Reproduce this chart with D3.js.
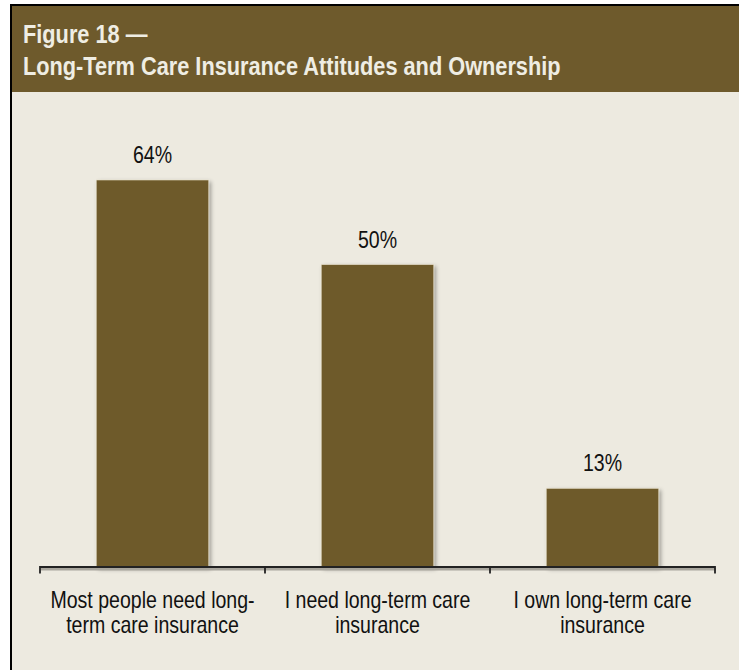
<!DOCTYPE html>
<html>
<head>
<meta charset="utf-8">
<script src="https://cdn.jsdelivr.net/npm/d3@7"></script>
<style>
  html, body { margin: 0; padding: 0; background: #ffffff; }
  svg { display: block; }
</style>
</head>
<body>
<svg id="chart" width="739" height="670"></svg>
<script>
// Survey results: share of respondents agreeing with each statement
const categories = [
  ["Most people need long-", "term care insurance"],
  ["I need long-term care", "insurance"],
  ["I own long-term care", "insurance"]
];
const values = [64, 50, 13];
const valueLabels = ["64%", "50%", "13%"];
const titleLines = ["Figure 18 \u2014", "Long-Term Care Insurance Attitudes and Ownership"];

const W = 739, H = 670;
const brown = "#6e5a2c";
const paper = "#edeae0";
const font = "'Liberation Sans', Arial, sans-serif";
const condense = 0.85;   // horizontal squeeze to get a narrow face

const svg = d3.select("#chart");

const defs = svg.append("defs");
const shadow = defs.append("filter").attr("id", "barShadow")
  .attr("x", "-10%").attr("y", "-10%").attr("width", "130%").attr("height", "130%");
shadow.append("feGaussianBlur").attr("in", "SourceAlpha").attr("stdDeviation", 2).attr("result", "b");
shadow.append("feOffset").attr("in", "b").attr("dx", 2).attr("dy", 2).attr("result", "o");
shadow.append("feComponentTransfer").attr("in", "o").attr("result", "s")
  .append("feFuncA").attr("type", "linear").attr("slope", 0.35);
const merge = shadow.append("feMerge");
merge.append("feMergeNode").attr("in", "s");
merge.append("feMergeNode").attr("in", "SourceGraphic");

// panel background and frame
svg.append("rect").attr("x", 11).attr("y", 5).attr("width", W - 11).attr("height", H - 5).attr("fill", paper);
svg.append("rect").attr("x", 11).attr("y", 6).attr("width", W - 11).attr("height", 86).attr("fill", brown);
svg.append("line").attr("x1", 10).attr("x2", W).attr("y1", 5).attr("y2", 5)
  .attr("stroke", "#000").attr("stroke-width", 2);
svg.append("line").attr("x1", 11).attr("x2", 11).attr("y1", 4).attr("y2", H)
  .attr("stroke", "#000").attr("stroke-width", 2);

// title
svg.append("g").selectAll("text").data(titleLines).join("text")
  .attr("transform", (d, i) => `translate(23,${43 + i * 32}) scale(0.87,1)`)
  .attr("fill", "#efede3")
  .attr("font-family", font)
  .attr("font-weight", "bold")
  .attr("font-size", 25)
  .text(d => d);

// scales
const x = d3.scaleBand().domain(d3.range(categories.length)).range([40, 715]).paddingInner(0.5).paddingOuter(0.25);
const y = d3.scaleLinear().domain([0, 64]).range([567, 180]);

// bars
svg.append("g").selectAll("rect").data(values).join("rect")
  .attr("x", (d, i) => x(i))
  .attr("y", d => y(d))
  .attr("width", x.bandwidth())
  .attr("height", d => y(0) - y(d))
  .attr("fill", brown)
  .attr("stroke", "#e4dcc6")
  .attr("stroke-width", 0.6)
  .attr("filter", "url(#barShadow)");

// value labels
svg.append("g").selectAll("text").data(values).join("text")
  .attr("transform", (d, i) => `translate(${x(i) + x.bandwidth() / 2},${y(d) - 17}) scale(${condense},1)`)
  .attr("text-anchor", "middle")
  .attr("font-family", font)
  .attr("font-size", 23)
  .attr("fill", "#111")
  .text((d, i) => valueLabels[i]);

// category axis with ticks on category boundaries
const [x0, x1] = x.range();
const boundaries = d3.range(categories.length + 1).map(i => x0 + i * (x1 - x0) / categories.length);
const axis = svg.append("g");
axis.append("line").attr("x1", x0).attr("x2", x1).attr("y1", 567.5).attr("y2", 567.5)
  .attr("stroke", "#a9a69d").attr("stroke-width", 3).attr("transform", "translate(1,1.5)");
axis.append("line").attr("x1", x0).attr("x2", x1).attr("y1", 567).attr("y2", 567)
  .attr("stroke", "#222").attr("stroke-width", 1.8);
axis.selectAll("line.tick").data(boundaries).join("line").attr("class", "tick")
  .attr("x1", d => d).attr("x2", d => d).attr("y1", 566).attr("y2", 573.5)
  .attr("stroke", "#222").attr("stroke-width", 1.8);

svg.append("g").selectAll("g").data(categories).join("g")
  .attr("transform", (d, i) => `translate(${x(i) + x.bandwidth() / 2},0) scale(${condense},1)`)
  .selectAll("text").data(d => d).join("text")
  .attr("x", 0)
  .attr("y", (d, j) => 608 + j * 25)
  .attr("text-anchor", "middle")
  .attr("font-family", font)
  .attr("font-size", 23)
  .attr("fill", "#111")
  .text(d => d);
</script>
</body>
</html>
